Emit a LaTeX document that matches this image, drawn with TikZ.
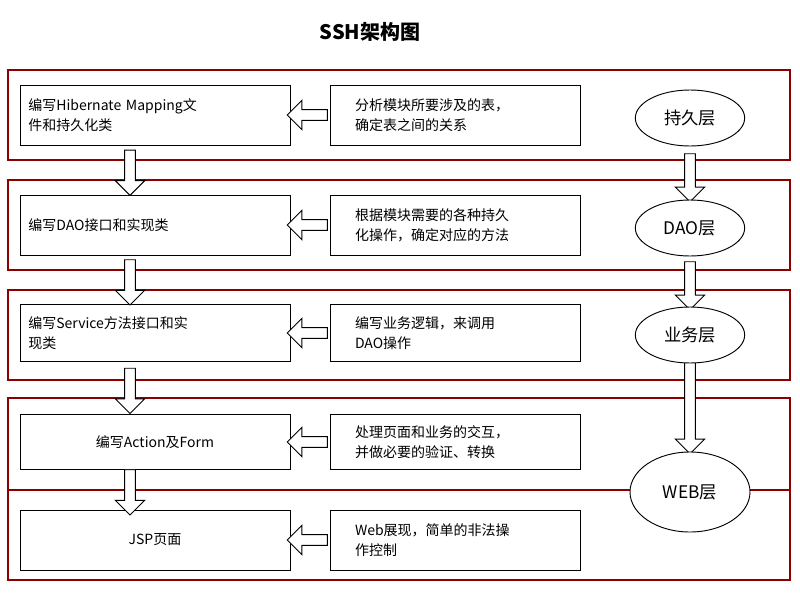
\documentclass[tikz,border=0pt]{standalone}
\usepackage{fontspec}
\setmainfont{Noto Sans CJK SC}
\usetikzlibrary{shapes.geometric,shapes.arrows,calc}
\begin{document}
\begin{tikzpicture}[x=0.75pt,y=-0.75pt,
 band/.style={draw=red!55!black,line width=0.8pt},
 lbox/.style={draw,line width=0.7pt,minimum width=202.5pt,minimum height=#1,align=left,font=\fontsize{10.5}{15}\selectfont,text width=190pt},
 rbox/.style={draw,line width=0.7pt,minimum width=187.5pt,minimum height=#1,align=left,font=\fontsize{10.5}{15}\selectfont,text width=150pt},
 ell/.style={ellipse,draw,fill=white,line width=0.7pt,font=\fontsize{13}{15}\selectfont},
 larr/.style={single arrow,draw,fill=white,line width=0.7pt,shape border rotate=180,minimum height=30pt,minimum width=22pt,single arrow head extend=4pt,inner sep=2pt},
 darr/.style={single arrow,draw,fill=white,line width=0.7pt,shape border rotate=270,minimum height=#1,minimum width=22pt,single arrow head extend=4pt,inner sep=2pt}]
\useasboundingbox (0,0) rectangle (800,600);
\node[font=\bfseries\fontsize{15}{18}\selectfont] (t) at (370,32) {SSH架构图};
\draw[band] (8,70) rectangle (790,160);
\draw[band] (8,180) rectangle (790,270);
\draw[band] (8,290) rectangle (790,380);
\draw[band] (8,398) rectangle (790,580);
\draw[band] (8,490) -- (790,490);
\node[lbox=45pt] (l1) at (155,115) {编写Hibernate Mapping文\\件和持久化类};
\node[lbox=45pt] (l2) at (155,225) {编写DAO接口和实现类};
\node[lbox=43pt] (l3) at (155,333) {编写Service方法接口和实\\现类};
\node[lbox=41pt,align=center] (l4) at (155,442) {编写Action及Form};
\node[lbox=45pt,align=center] (l5) at (155,540) {JSP页面};
\node[rbox=45pt] (r1) at (455,115) {分析模块所要涉及的表，\\确定表之间的关系};
\node[rbox=45pt] (r2) at (455,225) {根据模块需要的各种持久\\化操作，确定对应的方法};
\node[rbox=43pt] (r3) at (455,333) {编写业务逻辑，来调用\\DAO操作};
\node[rbox=41pt] (r4) at (455,442) {处理页面和业务的交互，\\并做必要的验证、转换};
\node[rbox=45pt] (r5) at (455,540) {Web展现，简单的非法操\\作控制};
\foreach \i in {1,...,5}{\node[larr] (a\i) at ($(l\i.east)!0.5!(r\i.west)$) {};}
\foreach \i/\j in {1/2,2/3,3/4,4/5}{\node[darr=34pt] (d\i) at ($(l\i.south)!0.5!(l\j.north)+(-25,0)$) {};}
\node[darr=36pt] (f1) at (690,175) {};
\node[darr=36pt] (f2) at (690,283) {};
\node[darr=72pt] (f3) at (690,403) {};
\node[ell,minimum width=82pt,minimum height=42pt] (e1) at (690,118) {持久层};
\node[ell,minimum width=82pt,minimum height=42pt] (e2) at (690,228) {DAO层};
\node[ell,minimum width=82pt,minimum height=42pt] (e3) at (690,335) {业务层};
\node[ell,minimum width=90pt,minimum height=60pt] (e4) at (690,492) {WEB层};
\end{tikzpicture}
\end{document}
